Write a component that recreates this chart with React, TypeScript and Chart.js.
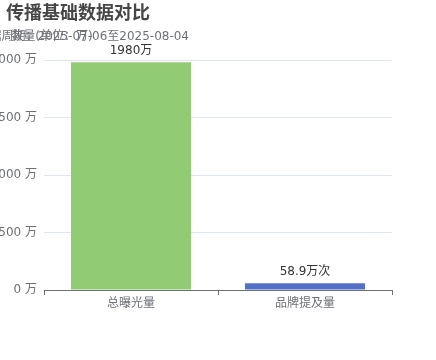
import React, { useEffect, useRef } from "react";
import { Chart, registerables } from "chart.js";

Chart.register(...registerables);

const titleText = "传播基础数据对比";
const periodText = "数据周期：2025-07-06至2025-08-04";
const unitText = "数量(单位：万)";
const categories = ["总曝光量", "品牌提及量"];
const values = [1980, 58.9];
const valueLabels = ["1980万", "58.9万次"];
const barColors = ["#91cc75", "#5470c6"];
const yTicks = [0, 500, 1000, 1500, 2000];

const FONT = '"DejaVu Sans", "Noto Sans CJK SC", sans-serif';
const TITLE_FONT = '"Noto Sans CJK SC", sans-serif';

const overlayPlugin = {
  id: "overlayText",
  afterDraw(chart: any) {
    const ctx = chart.ctx;
    ctx.save();
    ctx.fillStyle = "#464646";
    ctx.font = `bold 18px ${TITLE_FONT}`;
    ctx.textAlign = "left";
    ctx.textBaseline = "middle";
    ctx.fillText(titleText, 6, 12);

    ctx.fillStyle = "#6e7079";
    ctx.font = `12px ${FONT}`;
    ctx.textAlign = "right";
    ctx.fillText(periodText, 189, 37);
    ctx.textAlign = "center";
    ctx.fillText(unitText, 52, 37);

    // value labels
    const meta = chart.getDatasetMeta(0);
    ctx.fillStyle = "#333333";
    ctx.font = `12px ${FONT}`;
    ctx.textAlign = "center";
    ctx.textBaseline = "bottom";
    meta.data.forEach((bar: any, i: number) => {
      ctx.fillText(valueLabels[i], bar.x, bar.y - 5);
    });
    ctx.restore();
  },
};

export default function App() {
  const ref = useRef<HTMLCanvasElement | null>(null);
  useEffect(() => {
    if (!ref.current) return;
    const chart = new Chart(ref.current, {
      type: "bar",
      data: {
        labels: categories,
        datasets: [
          {
            data: values,
            backgroundColor: barColors,
            categoryPercentage: 1,
            barPercentage: 0.69,
          },
        ],
      },
      options: {
        animation: false,
        responsive: false,
        layout: { padding: { left: 0, right: 44, top: 60, bottom: 0 } },
        plugins: {
          legend: { display: false },
          tooltip: { enabled: false },
          title: { display: false },
        },
        scales: {
          x: {
            border: { display: true, color: "#6e7079", width: 1 },
            grid: {
              display: true,
              drawOnChartArea: false,
              drawTicks: true,
              tickLength: 5,
              color: "#6e7079",
              offset: true,
            },
            ticks: {
              color: "#6e7079",
              font: { size: 12, family: FONT },
              padding: 2,
            },
            afterFit(scale: any) {
              scale.height = 70;
            },
          },
          y: {
            min: 0,
            max: 2000,
            border: { display: false },
            grid: { color: "#e0e6f1", drawTicks: false },
            afterBuildTicks(scale: any) {
              scale.ticks = yTicks.map((v) => ({ value: v }));
            },
            ticks: {
              color: "#6e7079",
              font: { size: 12, family: FONT },
              padding: 7,
              callback: (v: any) => `${v} 万`,
            },
            afterFit(scale: any) {
              scale.width = 44;
            },
          },
        },
      },
      plugins: [overlayPlugin],
    });
    return () => chart.destroy();
  }, []);
  return (
    <div style={{ position: "fixed", left: 0, top: 0, width: 436, height: 360, background: "#fff" }}>
      <canvas ref={ref} width={436} height={360} style={{ width: 436, height: 360 }} />
    </div>
  );
}
